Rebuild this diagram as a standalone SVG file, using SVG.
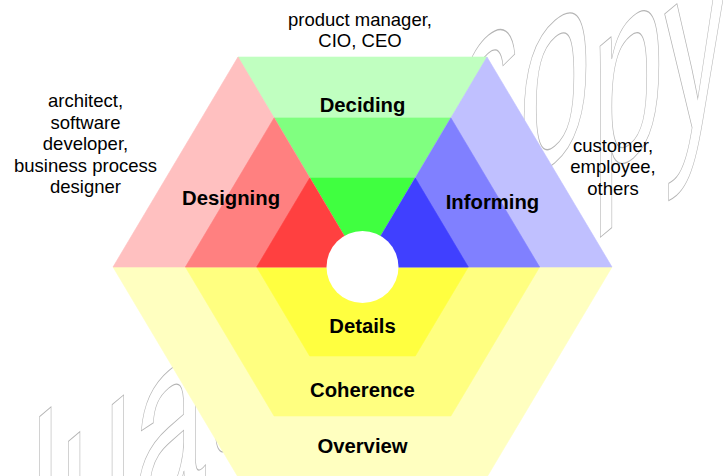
<svg xmlns="http://www.w3.org/2000/svg" width="723" height="476" viewBox="0 0 723 476">
<style>
.lbl{font-family:"Liberation Sans",Arial,sans-serif;font-size:18.5px;fill:#000;text-anchor:middle}
.hd{font-family:"Liberation Sans",Arial,sans-serif;font-size:20.3px;font-weight:bold;fill:#000;text-anchor:middle}
.wm{font-family:"Liberation Sans",Arial,sans-serif;font-size:100px;fill:none;stroke:#b4b4b4;stroke-width:1;vector-effect:non-scaling-stroke}
polygon{stroke-width:0.6;stroke-linejoin:round}
</style>
<rect width="723" height="476" fill="#fff"/>
<text class="wm" transform="matrix(1.31,-1.1,0,2.6,-195,816)" x="0" y="-4 -4 -4 -5.4 -6.2 0 -5 -10 -15 -20 -23 -25.8 -10 13.5 22">Evaluation copy</text>
<g id="overview-levels">
<polygon points="113,267 612,267 487,477 238,477" fill="#FFFFC0" stroke="#FFFFC0"/>
<polygon points="185.4,267 539.6,267 450.9,416 274.1,416" fill="#FFFF80" stroke="#FFFF80"/>
<polygon points="256.7,267 468.3,267 415.3,356 309.7,356" fill="#FFFF40" stroke="#FFFF40"/>
<text class="hd" x="362.5" y="333">Details</text>
<text class="hd" x="362.5" y="396.5">Coherence</text>
<text class="hd" x="362.5" y="452.5">Overview</text>
</g>
<g id="deciding">
<polygon points="238,57 487,57 362.5,267" fill="#C0FFC0" stroke="#C0FFC0"/>
<polygon points="274.1,117.9 450.9,117.9 362.5,267" fill="#80FF80" stroke="#80FF80"/>
<polygon points="309.7,178 415.3,178 362.5,267" fill="#40FF40" stroke="#40FF40"/>
<text class="hd" x="362.5" y="111.5">Deciding</text>
</g>
<g id="designing">
<polygon points="238,57 113,267 362.5,267" fill="#FFC0C0" stroke="#FFC0C0"/>
<polygon points="274.1,117.9 185.4,267 362.5,267" fill="#FF8080" stroke="#FF8080"/>
<polygon points="309.7,178 256.7,267 362.5,267" fill="#FF4040" stroke="#FF4040"/>
<text class="hd" x="231" y="205">Designing</text>
</g>
<g id="informing">
<polygon points="487,57 612,267 362.5,267" fill="#C0C0FF" stroke="#C0C0FF"/>
<polygon points="450.9,117.9 539.6,267 362.5,267" fill="#8080FF" stroke="#8080FF"/>
<polygon points="415.3,178 468.3,267 362.5,267" fill="#4040FF" stroke="#4040FF"/>
<text class="hd" x="492.5" y="209">Informing</text>
</g>
<g id="hub">
<circle cx="362.5" cy="267" r="36" fill="#fff"/>
</g>
<g id="role-deciders">
<text class="lbl" x="360" y="25.5">product manager,</text>
<text class="lbl" x="360" y="46.5">CIO, CEO</text>
</g>
<g id="role-designers">
<text class="lbl" x="85.5" y="107">architect,</text>
<text class="lbl" x="85.5" y="128.5">software</text>
<text class="lbl" x="85.5" y="150">developer,</text>
<text class="lbl" x="85.5" y="171.5">business process</text>
<text class="lbl" x="85.5" y="193">designer</text>
</g>
<g id="role-informed">
<text class="lbl" x="613" y="151.5">customer,</text>
<text class="lbl" x="613" y="173">employee,</text>
<text class="lbl" x="613" y="194.5">others</text>
</g>
<g id="connectors"/>
</svg>
